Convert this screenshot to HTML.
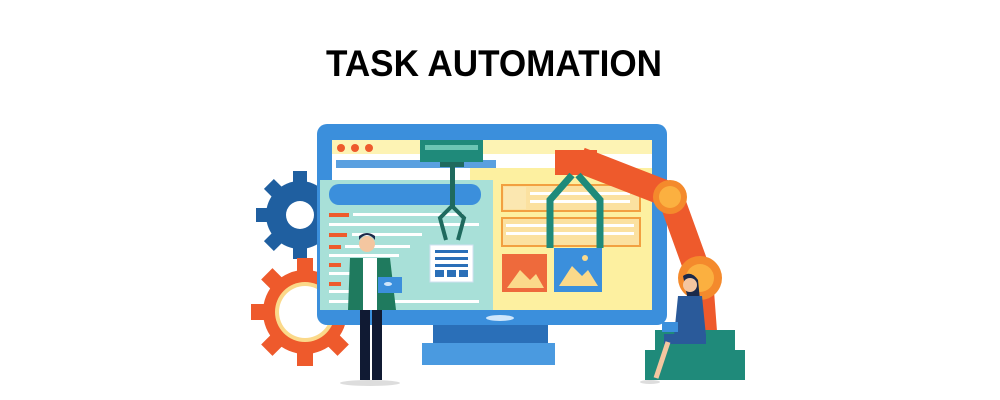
<!DOCTYPE html>
<html><head><meta charset="utf-8"><style>
html,body{margin:0;padding:0;background:#fff;width:1000px;height:400px;overflow:hidden}
svg{display:block}
</style></head><body>
<svg width="1000" height="400" viewBox="0 0 1000 400" xmlns="http://www.w3.org/2000/svg">
<text x="326" y="76" font-family="Liberation Sans, sans-serif" font-weight="bold" font-size="37" textLength="336" lengthAdjust="spacingAndGlyphs" fill="#000">TASK AUTOMATION</text>

<!-- blue gear -->
<g transform="translate(300,215)" fill="#1f5fa0">
  <circle r="34"/>
  <g>
    <rect x="-7" y="-44" width="14" height="12"/><rect x="-7" y="32" width="14" height="12"/>
    <rect x="-44" y="-7" width="12" height="14"/><rect x="32" y="-7" width="12" height="14"/>
    <g transform="rotate(45)"><rect x="-7" y="-44" width="14" height="12"/><rect x="-7" y="32" width="14" height="12"/><rect x="-44" y="-7" width="12" height="14"/><rect x="32" y="-7" width="12" height="14"/></g>
  </g>
  <circle r="14" fill="#fff"/>
</g>
<!-- orange gear -->
<g transform="translate(305,312)" fill="#ee5a2c">
  <circle r="42"/>
  <rect x="-8" y="-54" width="16" height="14"/><rect x="-8" y="40" width="16" height="14"/>
  <rect x="-54" y="-8" width="14" height="16"/><rect x="40" y="-8" width="14" height="16"/>
  <g transform="rotate(45)"><rect x="-8" y="-54" width="16" height="14"/><rect x="-8" y="40" width="16" height="14"/><rect x="-54" y="-8" width="14" height="16"/><rect x="40" y="-8" width="14" height="16"/></g>
  <circle r="30" fill="#fbd98a"/>
  <circle r="26" fill="#fff"/>
</g>

<!-- monitor stand -->
<rect x="433" y="322" width="115" height="24" fill="#2a6fb8"/>
<rect x="422" y="343" width="133" height="22" fill="#4a9ae0"/>
<!-- monitor -->
<rect x="317" y="124" width="350" height="201" rx="10" fill="#3b8fdc"/>
<rect x="332" y="140" width="320" height="170" fill="#fff"/>
<rect x="332" y="140" width="320" height="14" fill="#fdf3b4"/>
<circle cx="341" cy="148" r="4" fill="#ee5a2c"/><circle cx="355" cy="148" r="4" fill="#ee5a2c"/><circle cx="369" cy="148" r="4" fill="#ee5a2c"/>
<rect x="336" y="160" width="160" height="8" fill="#5aa0e0"/>
<ellipse cx="500" cy="318" rx="14" ry="3" fill="#cfe6fb"/>
<!-- right yellow panel -->
<rect x="470" y="168" width="182" height="142" fill="#fdf0a0"/>
<rect x="502" y="185" width="138" height="26" fill="#fbe1a0" stroke="#f2a040" stroke-width="2"/>
<rect x="504" y="187" width="22" height="22" fill="#fbe7b0"/>
<rect x="530" y="192" width="100" height="3" fill="#fff"/><rect x="530" y="200" width="100" height="3" fill="#fff"/>
<rect x="502" y="218" width="138" height="28" fill="#fbe1a0" stroke="#f2a040" stroke-width="2"/>
<rect x="506" y="224" width="128" height="3" fill="#fff"/><rect x="506" y="232" width="128" height="3" fill="#fff"/>
<rect x="502" y="254" width="45" height="38" fill="#ee6a3c"/>
<polygon points="507,288 520,270 530,280 536,274 544,288" fill="#fbd98a"/>
<rect x="554" y="248" width="48" height="44" fill="#3b8fdc"/>
<polygon points="559,286 572,266 582,276 588,270 598,286" fill="#fbd98a"/>
<circle cx="585" cy="258" r="3" fill="#fbd98a"/>
<!-- left teal panel -->
<rect x="320" y="180" width="173" height="130" fill="#a8e0d8"/>
<rect x="329" y="184" width="152" height="21" rx="10" fill="#3b8fdc"/>
<g fill="#ee5a2c"><rect x="329" y="213" width="20" height="4"/><rect x="329" y="233" width="18" height="4"/><rect x="329" y="245" width="12" height="4"/><rect x="329" y="263" width="12" height="4"/><rect x="329" y="282" width="12" height="4"/></g>
<g fill="#fff"><rect x="353" y="213" width="110" height="3"/><rect x="329" y="223" width="150" height="3"/><rect x="352" y="233" width="70" height="3"/><rect x="345" y="245" width="65" height="3"/><rect x="329" y="254" width="70" height="3"/><rect x="329" y="272" width="60" height="3"/><rect x="329" y="290" width="40" height="3"/><rect x="329" y="300" width="150" height="3"/></g>
<!-- doc card -->
<rect x="430" y="245" width="43" height="37" fill="#fff" stroke="#cfe0f0"/>
<g fill="#2a6fb8"><rect x="435" y="250" width="33" height="3"/><rect x="435" y="257" width="33" height="3"/><rect x="435" y="264" width="33" height="3"/><rect x="435" y="270" width="9" height="7"/><rect x="447" y="270" width="9" height="7"/><rect x="459" y="270" width="9" height="7"/></g>
<!-- green claw top -->
<rect x="420" y="140" width="63" height="22" fill="#1f8a7a"/>
<rect x="425" y="145" width="53" height="5" fill="#6cc6b4"/>
<rect x="440" y="162" width="24" height="5" fill="#1f6a5e"/>
<rect x="450" y="166" width="5" height="42" fill="#1f6a5e"/>
<path d="M452 206 L440 218 L446 240 M452 206 L464 218 L458 240" stroke="#1f6a5e" stroke-width="4" fill="none"/>
<!-- robot arm -->
<path d="M580 160 L670 195 L700 278 L705 345" stroke="#ee5a2c" stroke-width="26" fill="none" stroke-linejoin="round"/>
<circle cx="670" cy="197" r="17" fill="#f48a2c"/><circle cx="670" cy="197" r="11" fill="#fbb040"/>
<circle cx="700" cy="278" r="22" fill="#f48a2c"/><circle cx="700" cy="278" r="14" fill="#fbb040"/>
<rect x="555" y="150" width="42" height="25" fill="#ee5a2c"/>
<path d="M572 175 L550 200 L550 248 M578 175 L600 200 L600 248" stroke="#1f8a7a" stroke-width="7" fill="none"/>
<!-- green base -->
<rect x="655" y="330" width="80" height="22" fill="#1f8a7a"/>
<rect x="645" y="350" width="100" height="30" fill="#1f8a7a"/>
<!-- woman -->
<ellipse cx="650" cy="382" rx="10" ry="2" fill="#ddd"/>
<path d="M683 276 q8 -6 15 4 l4 40 l-10 0z" fill="#1b2a4a"/>
<circle cx="690" cy="285" r="7" fill="#f4c6a0"/>
<path d="M678 296 l24 0 l4 40 l-32 0z" fill="#2a5a9a"/>
<rect x="664" y="334" width="42" height="10" fill="#2a5a9a"/>
<path d="M668 342 l-12 36" stroke="#f4c6a0" stroke-width="5"/>
<rect x="662" y="322" width="16" height="10" fill="#3b8fdc"/>
<!-- man -->
<ellipse cx="370" cy="383" rx="30" ry="3" fill="#ddd"/>
<circle cx="367" cy="244" r="8" fill="#f4c6a0"/>
<path d="M359 240 q8 -10 16 0 l0 -4 q-8 -6 -16 0z" fill="#1b2a4a"/>
<rect x="360" y="310" width="10" height="70" fill="#101a33"/><rect x="372" y="310" width="10" height="70" fill="#101a33"/>
<path d="M350 258 l40 0 l6 52 l-48 0z" fill="#1f7a5e"/>
<rect x="363" y="258" width="14" height="52" fill="#fff"/>
<rect x="378" y="277" width="24" height="16" fill="#3b8fdc"/>
<ellipse cx="388" cy="284" rx="4" ry="2" fill="#cfe6fb"/>
</svg>
</body></html>
